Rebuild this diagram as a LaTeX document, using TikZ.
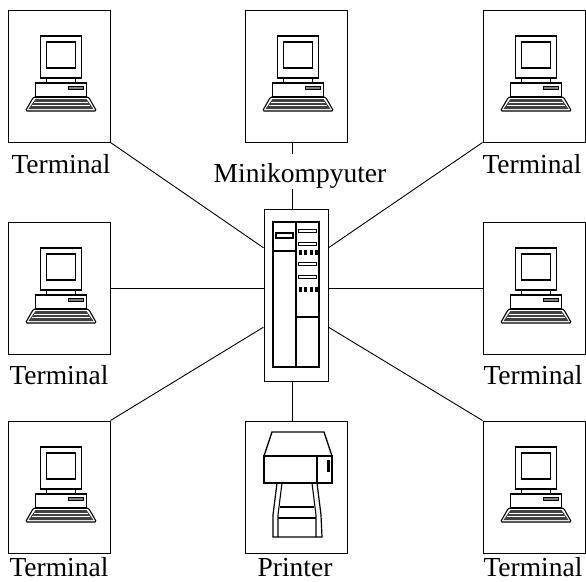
\documentclass[tikz,border=0pt]{standalone}
\usepackage{fontspec}
\setmainfont{Liberation Serif}
\usetikzlibrary{calc}

\tikzset{
  unitbox/.style={draw, line width=1pt, minimum width=102pt, minimum height=132pt, inner sep=0pt},
  caption/.style={anchor=base, inner sep=0pt, font=\fontsize{27.5}{30}\selectfont},
  link/.style={line width=0.9pt},
  computer/.pic={
    % monitor and screen
    \draw[line width=1.6pt] (-20,-38) rectangle (21,4);
    \draw[line width=1.3pt] (-14,-32) rectangle (15,-6);
    % neck and system unit
    \draw[line width=1.1pt] (-14,4) rectangle (15,9);
    \draw[line width=1.2pt] (-25,9) rectangle (26,23);
    \draw[line width=0.8pt, fill=gray] (8,12) rectangle (23,15);
    % keyboard
    \draw[line width=1.1pt, rounded corners=1.5pt] (-27,23) -- (28,23) -- (36,37) -- (-35,37) -- cycle;
    \fill[black!75] (-25,25) -- (26,25) -- (33,35) -- (-32,35) -- cycle;
    \draw[white, line width=0.5pt] (-26.5,28) -- (27.5,28) (-28.5,31) -- (29.5,31);
  }
}

\begin{document}
\begin{tikzpicture}[x=1pt, y=-1pt]
\useasboundingbox (0,0) rectangle (586,581);

% terminal boxes, minicomputer box and printer box
\node[unitbox] (t1)   at (59,76)  {};
\node[unitbox] (mini) at (296,76) {};
\node[unitbox] (t2)   at (534,76) {};
\node[unitbox] (t3)   at (59,288) {};
\node[unitbox] (t4)   at (534,288) {};
\node[unitbox] (t5)   at (59,487) {};
\node[unitbox] (prn)  at (296,487) {};
\node[unitbox] (t6)   at (534,487) {};

% workstation icons
\foreach \n in {t1,mini,t2,t3,t4,t5,t6}
  \pic at ($(\n.center)+(1.5,-2)$) {computer};

% central cabinet
\node[draw, line width=1pt, minimum width=64pt, minimum height=172pt, inner sep=0pt] (srv) at (296,295) {};
\begin{scope}[shift={(srv.center)}]
  \draw[line width=1.5pt] (-23,-73) rectangle (23,72);
  \draw[line width=1.5pt] (0,-73) -- (0,72);
  \draw[line width=1.2pt] (-23,-44) -- (0,-44);
  \draw[line width=1.1pt] (-20,-62) rectangle (-3,-57);
  \foreach \y in {-64,-51,-31,-18}
    \draw[line width=1.1pt] (2.5,\y-1.5) rectangle (20.5,\y+1.5);
  \foreach \y in {-43,-6}
    \foreach \x in {2.5,8,13.5,19}
      \fill (\x,\y-2.5) rectangle (\x+3,\y+2.5);
  \draw[line width=1.2pt] (0,22) -- (23,22);
\end{scope}

% printer
\begin{scope}[shift={(prn.center)}]
  \draw[line width=1.3pt] (-24,-55) -- (28,-55) -- (36,-31) -- (-32,-31) -- cycle;
  \draw[line width=1.3pt] (-32,-31) rectangle (36,-4);
  \draw[line width=1.1pt] (21,-31) -- (21,-4);
  \fill (31,-27) rectangle (33.5,-15);
  \draw[line width=1.2pt] (-19,-4) -- (-23,28) -- (-23,50) -- (26,50) -- (25,28) -- (21,-4);
  \draw[line width=1.1pt] (-14,-4) -- (-18,28) -- (-18,50);
  \draw[line width=1.1pt] (16,-4) -- (20,28) -- (20,50);
  \draw[line width=1.1pt] (-16,20) -- (18,20);
  \draw[line width=1.1pt] (-18,31) -- (20,31);
\end{scope}

% attachment points on the cabinet
\coordinate (srvUL) at ($(srv.north west)!0.227!(srv.south west)$);
\coordinate (srvUR) at ($(srv.north east)!0.227!(srv.south east)$);
\coordinate (srvLL) at ($(srv.north west)!0.686!(srv.south west)$);
\coordinate (srvLR) at ($(srv.north east)!0.686!(srv.south east)$);
\coordinate (bus) at (292,0);

% connections
\draw[link] (t1.south east) -- (srvUL);
\draw[link] (t2.south west) -- (srvUR);
\draw[link] (t3.east) -- (t3.east -| srv.west);
\draw[link] (t4.west) -- (t4.west -| srv.east);
\draw[link] (t5.north east) -- (srvLL);
\draw[link] (t6.north west) -- (srvLR);
\draw[link] (mini.south -| bus) -- (srv.north -| bus);
\draw[link] (srv.south -| bus) -- (prn.north -| bus);

% captions
\node[caption] (l1) at (61,173) {Terminal};
\node[caption, fill=white, text height=28pt, text depth=7pt] (lmini) at (300,182) {Minikompyuter};
\node[caption] (l2) at (532,173) {Terminal};
\node[caption] (l3) at (59,384) {Terminal};
\node[caption] (l4) at (533,384) {Terminal};
\node[caption] (l5) at (59,576) {Terminal};
\node[caption] (lprn) at (295,576) {Printer};
\node[caption] (l6) at (533,576) {Terminal};
\end{tikzpicture}
\end{document}
